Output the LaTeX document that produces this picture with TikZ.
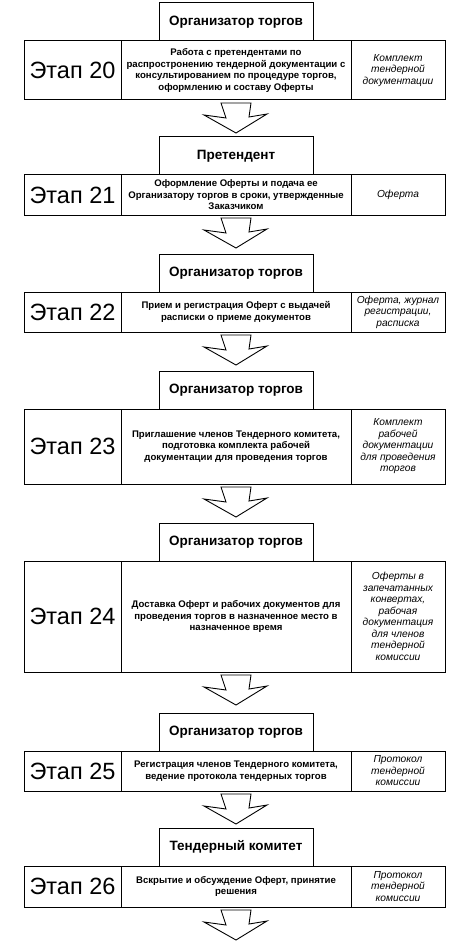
\documentclass[tikz,border=0pt]{standalone}
\usepackage{fontspec}
\setmainfont{Liberation Sans}
\usetikzlibrary{positioning}

\tikzset{
    cell/.style={draw, line width=1pt, outer sep=0pt, inner sep=2pt},
    stagebox/.style={cell, minimum width=97pt, font=\fontsize{23.5}{26}\selectfont},
    taskbox/.style={cell, minimum width=230pt, align=center, font=\fontsize{9.6}{11.5}\selectfont\bfseries},
    docbox/.style={cell, minimum width=94pt, align=center, font=\fontsize{10.2}{11.5}\selectfont\itshape},
    actorbox/.style={cell, minimum width=154pt, minimum height=38pt, font=\fontsize{13.5}{15}\selectfont\bfseries},
    downarrow/.pic={
        \draw [line width=0.9pt, line join=miter] (-15,0) -- (-10,15) -- (-32,12) -- (0,30) -- (31,11) -- (13,14) -- (15,0) -- cycle;
    }
}

\begin{document}
\begin{tikzpicture}[x=1pt, y=-1pt]
    \useasboundingbox (0,0) rectangle (475,952);

    % stage 20
    \node[taskbox, minimum height=59pt] (m20) at (236,70.5) {Работа с претендентами по\\распростронению тендерной документации с\\консультированием по процедуре торгов,\\оформлению и составу Оферты};
    \node[stagebox, minimum height=59pt, left=0pt of m20] (s20) {Этап 20};
    \node[docbox, minimum height=59pt, right=0pt of m20] (d20) {Комплект\\тендерной\\документации};
    \node[actorbox, above=0pt of m20] (a20) {Организатор торгов};

    % stage 21
    \node[taskbox, minimum height=40pt] (m21) at (236,195) {Оформление Оферты и подача ее\\Организатору торгов в сроки, утвержденные\\Заказчиком};
    \node[stagebox, minimum height=40pt, left=0pt of m21] (s21) {Этап 21};
    \node[docbox, minimum height=40pt, right=0pt of m21] (d21) {Оферта};
    \node[actorbox, above=0pt of m21] (a21) {Претендент};

    % stage 22
    \node[taskbox, minimum height=40pt] (m22) at (236,312) {Прием и регистрация Оферт с выдачей\\расписки о приеме документов};
    \node[stagebox, minimum height=40pt, left=0pt of m22] (s22) {Этап 22};
    \node[docbox, minimum height=40pt, right=0pt of m22] (d22) {Оферта, журнал\\регистрации,\\расписка};
    \node[actorbox, above=0pt of m22] (a22) {Организатор торгов};

    % stage 23
    \node[taskbox, minimum height=75pt] (m23) at (236,446.5) {Приглашение членов Тендерного комитета,\\подготовка комплекта рабочей\\документации для проведения торгов};
    \node[stagebox, minimum height=75pt, left=0pt of m23] (s23) {Этап 23};
    \node[docbox, minimum height=75pt, right=0pt of m23] (d23) {Комплект\\рабочей\\документации\\для проведения\\торгов};
    \node[actorbox, above=0pt of m23] (a23) {Организатор торгов};

    % stage 24
    \node[taskbox, minimum height=111pt] (m24) at (236,616.5) {Доставка Оферт и рабочих документов для\\проведения торгов в назначенное место в\\назначенное время};
    \node[stagebox, minimum height=111pt, left=0pt of m24] (s24) {Этап 24};
    \node[docbox, minimum height=111pt, right=0pt of m24] (d24) {Оферты в\\запечатанных\\конвертах,\\рабочая\\документация\\для членов\\тендерной\\комиссии};
    \node[actorbox, above=0pt of m24] (a24) {Организатор торгов};

    % stage 25
    \node[taskbox, minimum height=40pt] (m25) at (236,771) {Регистрация членов Тендерного комитета,\\ведение протокола тендерных торгов};
    \node[stagebox, minimum height=40pt, left=0pt of m25] (s25) {Этап 25};
    \node[docbox, minimum height=40pt, right=0pt of m25] (d25) {Протокол\\тендерной\\комиссии};
    \node[actorbox, above=0pt of m25] (a25) {Организатор торгов};

    % stage 26
    \node[taskbox, minimum height=41pt] (m26) at (236,886.5) {Вскрытие и обсуждение Оферт, принятие\\решения};
    \node[stagebox, minimum height=41pt, left=0pt of m26] (s26) {Этап 26};
    \node[docbox, minimum height=41pt, right=0pt of m26] (d26) {Протокол\\тендерной\\комиссии};
    \node[actorbox, above=0pt of m26] (a26) {Тендерный комитет};

    % arrows between stages
    \foreach \i in {20,...,26} {
        \pic at ([yshift=-3pt]m\i.south) {downarrow};
    }
\end{tikzpicture}
\end{document}
